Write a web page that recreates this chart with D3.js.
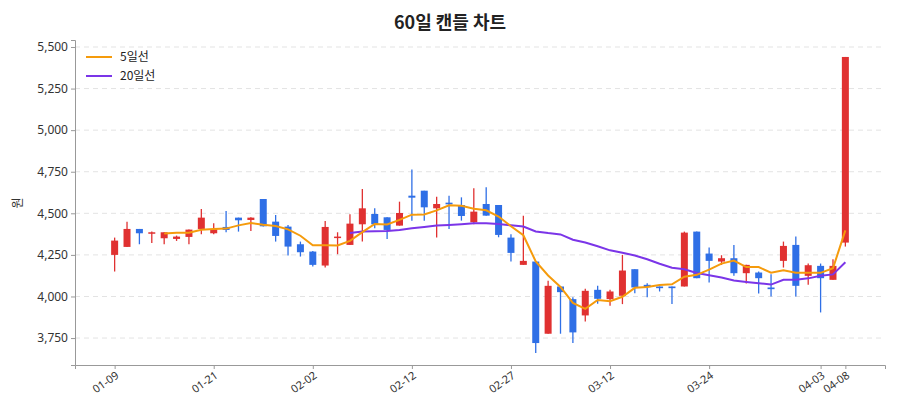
<!DOCTYPE html>
<html><head><meta charset="utf-8">
<script src="https://cdn.jsdelivr.net/npm/d3@7"></script>
<style>body{margin:0;background:#fff;font-family:"Noto Sans CJK KR","Noto Sans",sans-serif}</style>
</head><body><svg id="c" width="900" height="420"></svg>
<script>
const opens  = [4250,4298,4406,4380,4350,4346,4358,4406,4380,4418,4474,4460,4586,4450,4420,4314,4270,4186,4354,4310,4434,4496,4476,4426,4606,4636,4530,4564,4550,4446,4556,4550,4354,4190,4210,3776,4060,3984,3886,4040,3984,4004,4164,4070,4060,4060,4060,4390,4258,4210,4230,4140,4144,4054,4214,4310,4124,4184,4100,4324];
const closes = [4336,4406,4380,4386,4386,4360,4402,4474,4404,4400,4458,4474,4422,4364,4300,4266,4190,4418,4360,4438,4530,4434,4400,4502,4594,4536,4556,4554,4484,4510,4486,4370,4262,4214,3720,4064,4026,3784,4034,3986,4030,4156,4054,4056,4050,4050,4384,4110,4214,4230,4140,4190,4110,4044,4304,4064,4188,4110,4184,5440];
const highs  = [4354,4450,4406,4390,4386,4366,4402,4526,4440,4514,4474,4476,4586,4490,4430,4330,4274,4454,4386,4494,4646,4530,4476,4570,4764,4636,4600,4606,4596,4650,4656,4550,4374,4486,4210,4094,4060,3996,4046,4064,4040,4250,4164,4080,4060,4060,4390,4390,4294,4248,4310,4190,4150,4134,4330,4360,4198,4198,4224,5440];
const lows   = [4150,4298,4314,4322,4314,4334,4314,4374,4374,4386,4390,4394,4420,4330,4246,4240,4180,4174,4254,4310,4330,4410,4346,4426,4456,4456,4354,4406,4456,4434,4486,4356,4210,4190,3660,3776,3776,3720,3850,3956,3944,3954,4020,3996,4030,3954,4060,4110,4084,4190,4124,4078,4018,4000,4174,4000,4070,3904,4100,4300];
const tickLabels = {0:"01-09",8:"01-21",16:"02-02",24:"02-12",32:"02-27",40:"03-12",48:"03-24",57:"04-03",59:"04-08"};
const yTicks = [3750,4000,4250,4500,4750,5000,5250,5500];

const idx = d3.range(closes.length);
function ma(n){return idx.map(i=> i<n-1?null:d3.mean(closes.slice(i-n+1,i+1)));}
const ma5 = ma(5), ma20 = ma(20);

const svg = d3.select("#c");
const L=75,R=885,T=40,B=365;
const x = d3.scalePoint().domain(idx).range([L,R]).padding(3.2);
const y = d3.scaleLinear().domain([3588,5542]).range([B,T]);
const fmt = d3.format(",");

svg.append("g").selectAll("line").data(yTicks).join("line")
 .attr("x1",L).attr("x2",R).attr("y1",d=>y(d)).attr("y2",d=>y(d))
 .attr("stroke","#e3e3e3").attr("stroke-dasharray","5,4");

const ya = svg.append("g").attr("transform",`translate(${L},0)`).call(d3.axisLeft(y).tickValues(yTicks).tickFormat(fmt).tickSize(4));
ya.select(".domain").attr("stroke","#999");
ya.selectAll("line").attr("stroke","#999");
ya.selectAll("text").attr("font-size",12).attr("fill","#333").attr("font-family","'Noto Sans'");

const xa = svg.append("g").attr("transform",`translate(0,${B})`).call(d3.axisBottom(x).tickValues(Object.keys(tickLabels).map(Number)).tickFormat(d=>tickLabels[d]).tickSize(4));
xa.select(".domain").attr("stroke","#999");
xa.selectAll("line").attr("stroke","#999");
xa.selectAll("text").attr("font-size",11).attr("fill","#333").attr("font-family","'Noto Sans'")
 .attr("text-anchor","end").attr("dx","-0.3em").attr("dy","0.5em").attr("transform","rotate(-35)");

const up="#e03131", dn="#2f6fe6";
const g = svg.append("g");
g.selectAll("line.w").data(idx).join("line").attr("class","w")
 .attr("x1",i=>x(i)).attr("x2",i=>x(i)).attr("y1",i=>y(highs[i])).attr("y2",i=>y(lows[i]))
 .attr("stroke",i=>closes[i]>=opens[i]?up:dn).attr("stroke-width",1.3);
g.selectAll("rect").data(idx).join("rect")
 .attr("x",i=>x(i)-3.5).attr("width",7)
 .attr("y",i=>y(Math.max(opens[i],closes[i])))
 .attr("height",i=>Math.max(1.5,Math.abs(y(opens[i])-y(closes[i]))))
 .attr("fill",i=>closes[i]>=opens[i]?up:dn);

const line = d3.line().defined(d=>d!=null).x((d,i)=>x(i)).y(d=>y(d));
svg.append("path").datum(ma20).attr("d",line).attr("fill","none").attr("stroke","#7b35e8").attr("stroke-width",2);
svg.append("path").datum(ma5).attr("d",line).attr("fill","none").attr("stroke","#f59b0c").attr("stroke-width",2);

svg.append("text").attr("x",450).attr("y",29).attr("text-anchor","middle").attr("font-size",18).attr("font-weight","bold").attr("fill","#222").text("60일 캔들 차트");
svg.append("text").attr("transform","translate(22,203) rotate(-90)").attr("text-anchor","middle").attr("font-size",12).attr("fill","#333").text("원");

const leg=[["5일선","#f59b0c"],["20일선","#7b35e8"]];
leg.forEach((d,k)=>{
 svg.append("line").attr("x1",86).attr("x2",112).attr("y1",57+k*19).attr("y2",57+k*19).attr("stroke",d[1]).attr("stroke-width",2);
 svg.append("text").attr("x",120).attr("y",61+k*19).attr("font-size",12).attr("fill","#222").text(d[0]);
});
</script></body></html>
